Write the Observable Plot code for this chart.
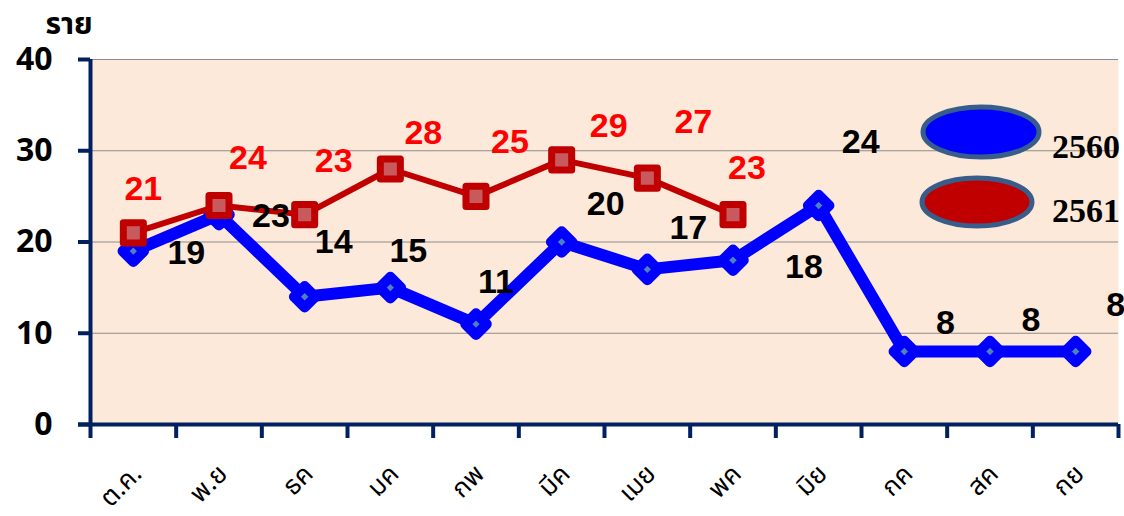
<!DOCTYPE html>
<html>
<head>
<meta charset="utf-8">
<script src="https://cdn.jsdelivr.net/npm/d3@7"></script>
<script src="https://cdn.jsdelivr.net/npm/@observablehq/plot@0.6"></script>
<style>
  html, body { margin: 0; padding: 0; background: #fff; }
  #wrap { position: relative; width: 1124px; height: 516px; }
  #legend { position: absolute; left: 0; top: 0; pointer-events: none; }
</style>
</head>
<body>
<div id="wrap"></div>
<script>
const months = ["ต.ค.","พ.ย","ธค","มค","กพ","มีค","เมย","พค","มิย","กค","สค","กย"];
const values2560 = [19, 23, 14, 15, 11, 20, 17, 18, 24, 8, 8, 8];
const values2561 = [21, 24, 23, 28, 25, 29, 27, 23];
const seriesNames = ["2560", "2561"];
const yTicks = [0, 10, 20, 30, 40];
const yTitle = "ราย";

// label offsets (pixels) as placed in the original chart
const offsets2560 = [[53,2],[52,1],[29,-55],[18,-37],[20,-42],[44,-38],[41,-41],[71,7],[42,-63],[41,-28],[41,-31],[40,-46]];
const offsets2561 = [[10,-44],[29,-47],[29,-54],[33,-36],[34,-54],[47,-34],[46,-56],[14,-47]];

const blue = values2560.map((v, i) => ({i: i + 0.5, v}));
const red = values2561.map((v, i) => ({i: i + 0.5, v}));
const monthRows = months.map((m, i) => ({i: i + 0.5, m}));

const navy = "#002060";
const numFont = "'Liberation Sans', Arial, sans-serif";
const tickFont = "'Open Sans', 'Liberation Sans', sans-serif";
const thaiFont = "'Noto Sans Thai', Tahoma, 'Noto Sans', 'DejaVu Sans', sans-serif";

const labelMarks = [
  ...blue.map((d, k) => Plot.text([d], {x: "i", y: "v", text: d => String(d.v), dx: offsets2560[k][0], dy: offsets2560[k][1], fill: "#000", fontSize: 34, fontWeight: "bold", fontFamily: numFont})),
  ...red.map((d, k) => Plot.text([d], {x: "i", y: "v", text: d => String(d.v), dx: offsets2561[k][0], dy: offsets2561[k][1], fill: "#FF0000", fontSize: 34, fontWeight: "bold", fontFamily: numFont}))
];

const chart = Plot.plot({
  width: 1124,
  height: 516,
  marginLeft: 90,
  marginRight: 6,
  marginTop: 59,
  marginBottom: 92,
  style: {background: "transparent", overflow: "visible"},
  x: {domain: [0, 12], axis: null},
  y: {domain: [0, 40], axis: null},
  marks: [
    Plot.frame({fill: "#FDE9D9", stroke: null}),
    Plot.gridY([10, 20, 30, 40], {stroke: "#8c8c8c", strokeOpacity: 1, strokeWidth: 1.2}),
    Plot.axisY(yTicks, {tickSize: 12, tickPadding: 26, stroke: navy, strokeWidth: 4, fill: "#000", fontSize: 32, fontWeight: "bold", fontFamily: tickFont, label: null}),
    Plot.axisX(d3.range(13), {tickSize: 14, stroke: navy, strokeWidth: 4, tickFormat: () => "", label: null}),
    Plot.text(monthRows, {x: "i", frameAnchor: "bottom", text: "m", rotate: -45, textAnchor: "end", lineAnchor: "middle", dx: 4, dy: 45, fontSize: 26, fontFamily: thaiFont, fill: "#000"}),
    Plot.ruleX([0], {stroke: navy, strokeWidth: 4, y1: 0, y2: 40}),
    Plot.ruleY([0], {stroke: navy, strokeWidth: 4, x1: 0, x2: 12, insetLeft: -12}),
    Plot.line(blue, {x: "i", y: "v", stroke: "#0000FF", strokeWidth: 12, strokeLinejoin: "round"}),
    Plot.dot(blue, {x: "i", y: "v", symbol: "diamond2", r: 9.7, fill: "#4F81BD", stroke: "#0000FF", strokeWidth: 10, strokeLinejoin: "round"}),
    Plot.line(red, {x: "i", y: "v", stroke: "#C00000", strokeWidth: 6, strokeLinejoin: "round"}),
    Plot.dot(red, {x: "i", y: "v", symbol: "square", r: 11.3, fill: "#C85A5E", stroke: "#C00000", strokeWidth: 7, strokeLinejoin: "round"}),
    ...labelMarks,
    Plot.text([yTitle], {frameAnchor: "top-left", text: d => d, dx: -45, dy: -47, fontSize: 30, fontWeight: "bold", fontFamily: thaiFont, fill: "#000"})
  ]
});
document.getElementById("wrap").appendChild(chart);

// legend (inside plot area, top-right)
const ns = "http://www.w3.org/2000/svg";
const leg = document.createElementNS(ns, "svg");
leg.setAttribute("id", "legend");
leg.setAttribute("width", 1124);
leg.setAttribute("height", 516);
const legendColors = ["#0000FF", "#C00000"];
const legendItems = [
  {cx: 981, cy: 132, rx: 58, ry: 25, ty: 158},
  {cx: 977, cy: 202, rx: 55, ry: 24, ty: 222}
];
seriesNames.forEach((name, k) => {
  const p = legendItems[k];
  const e = document.createElementNS(ns, "ellipse");
  e.setAttribute("cx", p.cx); e.setAttribute("cy", p.cy);
  e.setAttribute("rx", p.rx); e.setAttribute("ry", p.ry);
  e.setAttribute("fill", legendColors[k]);
  e.setAttribute("stroke", "#385D8A");
  e.setAttribute("stroke-width", 5);
  leg.appendChild(e);
  const t = document.createElementNS(ns, "text");
  t.setAttribute("x", 1052); t.setAttribute("y", p.ty);
  t.setAttribute("font-family", "'Liberation Serif', 'Times New Roman', serif");
  t.setAttribute("font-weight", "bold");
  t.setAttribute("font-size", 34);
  t.textContent = name;
  leg.appendChild(t);
});
document.getElementById("wrap").appendChild(leg);
</script>
</body>
</html>
